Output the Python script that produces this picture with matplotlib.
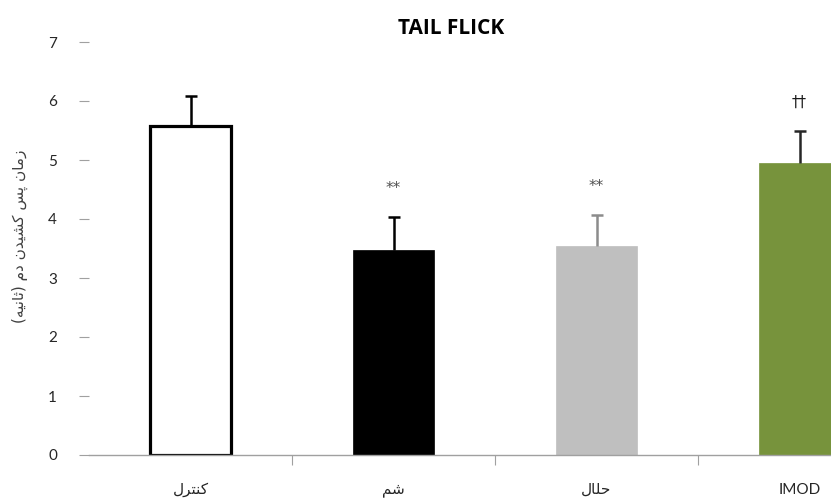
import matplotlib
matplotlib.use("Agg")
import matplotlib.pyplot as plt
from matplotlib.ticker import FixedLocator

# Persian labels written in visual (shaped, left-to-right) order
categories = ["\uFEDD\uFEAE\uFE98\uFEE8\uFB90",   # کنترل
              "\uFEE2\uFEB7",                       # شم
              "\uFEDD\uFE8E\uFEE0\uFEA3",           # حلال
              "IMOD"]
values = [5.58, 3.47, 3.55, 4.95]
errors = [0.50, 0.56, 0.52, 0.54]
marks = ["", "**", "**", "\u2020\u2020"]
mark_colors = ["#505050", "#505050", "#505050", "#1a1a1a"]
ylabel = ("(" + "\uFEEA\uFEF4\uFEE7\uFE8E\uFE9B" + ")" + " " + "\uFEE1\uFEA9" + " "
          + "\uFEE5\uFEAA\uFEF4\uFEB8\uFB90" + " " + "\uFEB2\uFB58" + " "
          + "\uFEE5\uFE8E\uFEE3\uFEAF")
title = "TAIL FLICK"
yticks = [0, 1, 2, 3, 4, 5, 6, 7]

face_colors = ["white", "black", "#bfbfbf", "#77933c"]
edge_colors = ["black", "black", "#bfbfbf", "#77933c"]
edge_widths = [2.3, 0.5, 0.5, 0.5]
err_colors = ["black", "black", "#8c8c8c", "#262626"]

fonts = ["Lato", "DejaVu Sans"]
plt.rcParams["font.family"] = fonts

fig = plt.figure(figsize=(8.31, 5.03), dpi=100)
ax = fig.add_axes([89 / 831, 48 / 503, 812 / 831, 413 / 503])

x = list(range(len(categories)))
for i in x:
    ax.bar(i, values[i], width=0.40, color=face_colors[i], edgecolor=edge_colors[i],
           linewidth=edge_widths[i], zorder=2)
    eb = ax.errorbar(i, values[i], yerr=[[0], [errors[i]]], fmt="none", ecolor=err_colors[i],
                     elinewidth=1.8, capsize=4.5, capthick=1.8, zorder=3)
    caps = eb[1]
    if len(caps) > 1:
        caps[0].set_visible(False)
    if marks[i]:
        ax.text(i, values[i] + errors[i] + 0.36, marks[i], ha="center", va="bottom",
                fontsize=11, color=mark_colors[i], family=["DejaVu Sans"])

ax.set_xlim(-0.5, 3.5)
ax.set_ylim(0, 7)
ax.set_yticks(yticks)
ax.set_yticklabels([str(t) for t in yticks], fontsize=11, color="#262626")
ax.tick_params(axis="y", length=7, width=0.8, color="#a0a0a0", pad=16)

ax.set_xticks(x)
ax.set_xticklabels(categories, fontsize=11, color="#262626")
ax.tick_params(axis="x", which="major", length=0, pad=20)
ax.xaxis.set_minor_locator(FixedLocator([0.5, 1.5, 2.5]))
ax.tick_params(axis="x", which="minor", length=7, width=0.8, color="#a0a0a0")

for s in ["top", "right", "left"]:
    ax.spines[s].set_visible(False)
ax.spines["bottom"].set_color("#a0a0a0")
ax.spines["bottom"].set_linewidth(1.0)

fig.text(20 / 831, 1 - 236 / 503, ylabel, rotation=90, ha="center", va="center",
         fontsize=11, color="#404040", family=["DejaVu Sans"])
fig.text(451 / 831, 1 - 29 / 503, title, ha="center", va="center", fontsize=15,
         fontweight="bold", color="black", family=["Open Sans", "DejaVu Sans"])

fig.savefig("out.png", dpi=100)
